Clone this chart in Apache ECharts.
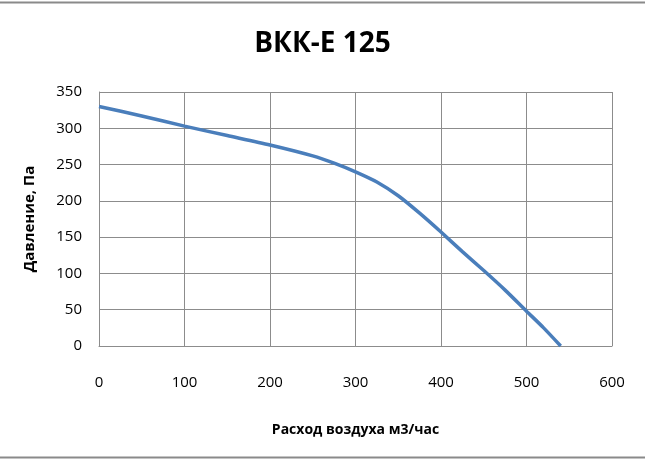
<!DOCTYPE html>
<html>
<head>
<meta charset="utf-8">
<script src="https://cdn.jsdelivr.net/npm/echarts@6/dist/echarts.min.js"></script>
<style>
    html, body { margin: 0; padding: 0; background: #fff; }
    #chart { width: 645px; height: 459px; }
</style>
</head>
<body>
<div id="chart"></div>
<script>
    // расход воздуха, м3/час
    var flow = [0, 50, 100, 150, 200, 250, 275, 300, 325, 350, 375, 400, 425, 450, 475, 500, 520, 540];
    // давление, Па
    var pressure = [330, 317, 303, 290, 277, 262, 252, 240, 226, 207, 183, 157, 130, 104, 77, 48, 25, 0];

    var xTicks = [0, 100, 200, 300, 400, 500, 600];
    var yTicks = [0, 50, 100, 150, 200, 250, 300, 350];

    var myChart = echarts.init(document.getElementById('chart'));
    var gridColor = '#8c8c8c';
    var font = 'Open Sans';

    var option = {
        animation: false,
        title: {
            text: 'ВКК-Е 125',
            left: 'center',
            top: 25,
            textStyle: {
                fontFamily: font,
                fontWeight: 'bold',
                fontSize: 28,
                color: '#000'
            }
        },
        grid: { left: 99, right: 33, top: 92, bottom: 113 },
        xAxis: {
            type: 'value',
            min: xTicks[0],
            max: xTicks[xTicks.length - 1],
            interval: 100,
            name: 'Расход воздуха м3/час',
            nameLocation: 'middle',
            nameGap: 77,
            nameTextStyle: {
                fontFamily: font,
                fontWeight: 'bold',
                fontSize: 14,
                color: '#000'
            },
            axisLine: { lineStyle: { color: gridColor } },
            axisTick: { show: false },
            splitLine: { show: true, lineStyle: { color: gridColor } },
            axisLabel: {
                margin: 29,
                fontFamily: font,
                fontSize: 15,
                color: '#000'
            }
        },
        yAxis: {
            type: 'value',
            min: yTicks[0],
            max: yTicks[yTicks.length - 1],
            interval: 50,
            name: 'Давление, Па',
            nameLocation: 'middle',
            nameGap: 62,
            nameTextStyle: {
                fontFamily: font,
                fontWeight: 'bold',
                fontSize: 15,
                color: '#000'
            },
            axisLine: { show: true, lineStyle: { color: gridColor } },
            axisTick: { show: false },
            splitLine: { show: true, lineStyle: { color: gridColor } },
            axisLabel: {
                margin: 17,
                fontFamily: font,
                fontSize: 15,
                color: '#000'
            }
        },
        graphic: [
            { type: 'line', shape: { x1: 612.5, y1: 92, x2: 612.5, y2: 346 }, style: { stroke: gridColor, lineWidth: 1 } },
            { type: 'line', shape: { x1: 0, y1: 2.5, x2: 645, y2: 2.5 }, style: { stroke: '#8a8a8a', lineWidth: 2 } },
            { type: 'line', shape: { x1: 0, y1: 457.5, x2: 645, y2: 457.5 }, style: { stroke: '#8a8a8a', lineWidth: 2 } }
        ],
        series: [
            {
                type: 'line',
                data: flow.map(function (q, i) { return [q, pressure[i]]; }),
                smooth: 0.25,
                showSymbol: false,
                lineStyle: { color: '#4a7ebb', width: 3.5 }
            }
        ]
    };

    myChart.setOption(option);
</script>
</body>
</html>
